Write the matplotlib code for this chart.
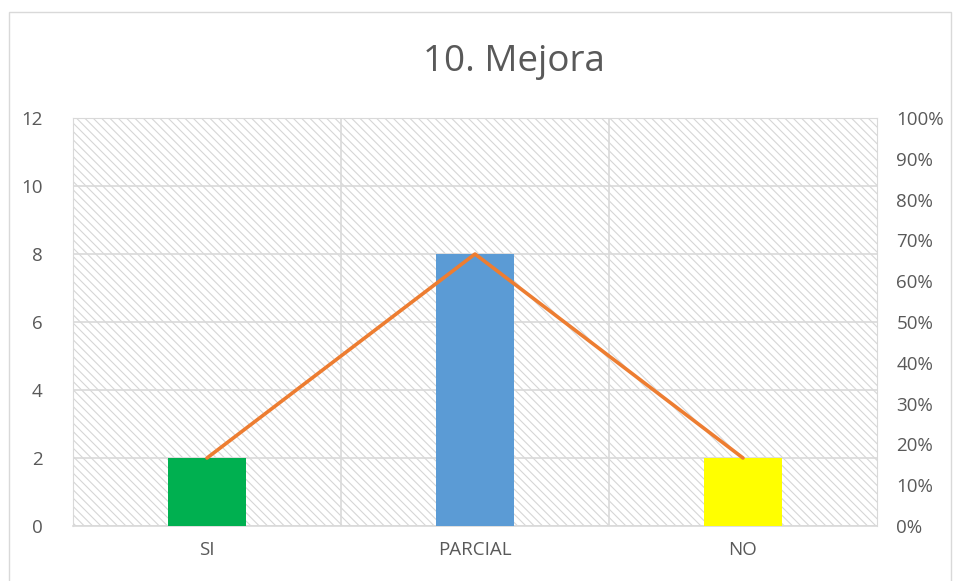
import matplotlib.pyplot as plt
from matplotlib.patches import Rectangle
from matplotlib.ticker import PercentFormatter

categorias = ['SI', 'PARCIAL', 'NO']
cantidad = [2, 8, 2]
porcentaje = [2 / 12, 8 / 12, 2 / 12]
colores = ['#00B050', '#5B9BD5', '#FFFF00']

plt.rcParams['font.family'] = ['Open Sans', 'DejaVu Sans']
plt.rcParams['hatch.linewidth'] = 0.8
gris = '#595959'
rejilla = '#d9d9d9'

fig = plt.figure(figsize=(9.57, 5.81), dpi=100)
# marco del grafico
fig.patches.append(Rectangle((9 / 957, -0.05), 942 / 957, 1.05 - 12 / 581,
                             transform=fig.transFigure, fill=False,
                             edgecolor=rejilla, linewidth=1))

ax = fig.add_axes([73 / 957, 55 / 581, 804 / 957, 408 / 581])
x = list(range(len(categorias)))

# fondo rayado del area de trazado
ax.add_patch(Rectangle((0, 0), 1, 1, transform=ax.transAxes, facecolor='white',
                       edgecolor='#d6d6d6', hatch='\\\\\\\\',
                       linewidth=0, zorder=0))

ax.bar(x, cantidad, width=0.29, color=colores, zorder=3)
ax.set_xlim(-0.5, 2.5)
ax.set_ylim(0, 12)
ax.set_yticks(range(0, 13, 2))
ax.set_xticks(x)
ax.set_xticklabels(categorias)
for b in [0.5, 1.5]:
    ax.axvline(b, color=rejilla, linewidth=1.2, zorder=1)
ax.grid(axis='y', color=rejilla, linewidth=1.2, zorder=1)
ax.set_axisbelow(True)
for s in ['top', 'right', 'left']:
    ax.spines[s].set_color(rejilla)
ax.spines['bottom'].set_color(rejilla)
ax.spines['bottom'].set_linewidth(1.2)
ax.tick_params(axis='both', length=0, labelsize=13.5, colors=gris)
ax.tick_params(axis='y', pad=22)
ax.tick_params(axis='x', pad=11)

ax2 = ax.twinx()
ax2.plot(x, porcentaje, color='#ED7D31', linewidth=2.6, zorder=4,
         solid_capstyle='round')
ax2.set_ylim(0, 1)
ax2.set_yticks([i / 10 for i in range(11)])
ax2.yaxis.set_major_formatter(PercentFormatter(1.0, decimals=0))
ax2.tick_params(axis='y', length=0, labelsize=13.5, colors=gris, pad=14)
for s in ax2.spines.values():
    s.set_visible(False)

fig.text(514 / 957, 1 - 62 / 581, '10. Mejora', ha='center', va='center',
         fontsize=26.5, color=gris)

fig.savefig('out.png', dpi=100)
